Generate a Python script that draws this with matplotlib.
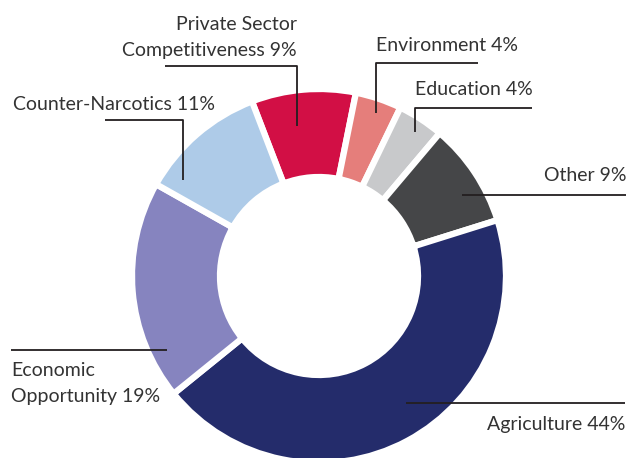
import matplotlib.pyplot as plt

W, H = 637, 458

# funding split by sector, clockwise from the top
sectors = ["Private Sector\nCompetitiveness", "Environment", "Education", "Other",
           "Agriculture", "Economic\nOpportunity", "Counter-Narcotics"]
shares = [9, 4, 4, 9, 44, 19, 11]
colors = ["#D20F45", "#E57E7B", "#C8C9CB", "#454648",
          "#242C6B", "#8684BF", "#AECBE8"]

# label anchor (x, y of first line, alignment) and leader line path, pixel coords
label_pos = [(297, 23, "right"), (376, 44, "left"), (415, 88, "left"),
             (627, 174, "right"), (625, 423, "right"), (11, 369, "left"),
             (13, 103, "left")]
leaders = [[(165, 66), (297, 66), (297, 126)],
           [(376, 113), (376, 63), (478, 63)],
           [(415, 132), (415, 108), (532, 108)],
           [(462, 195), (626, 195)],
           [(406, 403), (625, 403)],
           [(11, 350), (167, 350)],
           [(105, 120), (183, 120), (183, 180)]]

fig = plt.figure(figsize=(W / 100, H / 100), dpi=100)
ax = fig.add_axes([0, 0, 1, 1])

cx, cy, r = 319, 276, 187
ax.pie(shares, colors=colors, startangle=111, counterclock=False,
       center=(cx, H - cy), radius=r,
       wedgeprops=dict(width=88, edgecolor="white", linewidth=4.5))

for (name, share), (x, y, ha), path in zip(zip(sectors, shares), label_pos, leaders):
    lines = f"{name} {share}%".split("\n")
    for i, line in enumerate(lines):
        ax.text(x, H - (y + 26 * i), line, ha=ha, va="center_baseline",
                fontsize=14, family="Lato", color="#333333")
    xs = [p[0] for p in path]
    ys = [H - p[1] for p in path]
    ax.plot(xs, ys, color="#231f20", lw=1.3, solid_capstyle="butt")

ax.set_xlim(0, W)
ax.set_ylim(0, H)
ax.set_aspect("equal")
ax.axis("off")
fig.savefig("out.png", dpi=100)
